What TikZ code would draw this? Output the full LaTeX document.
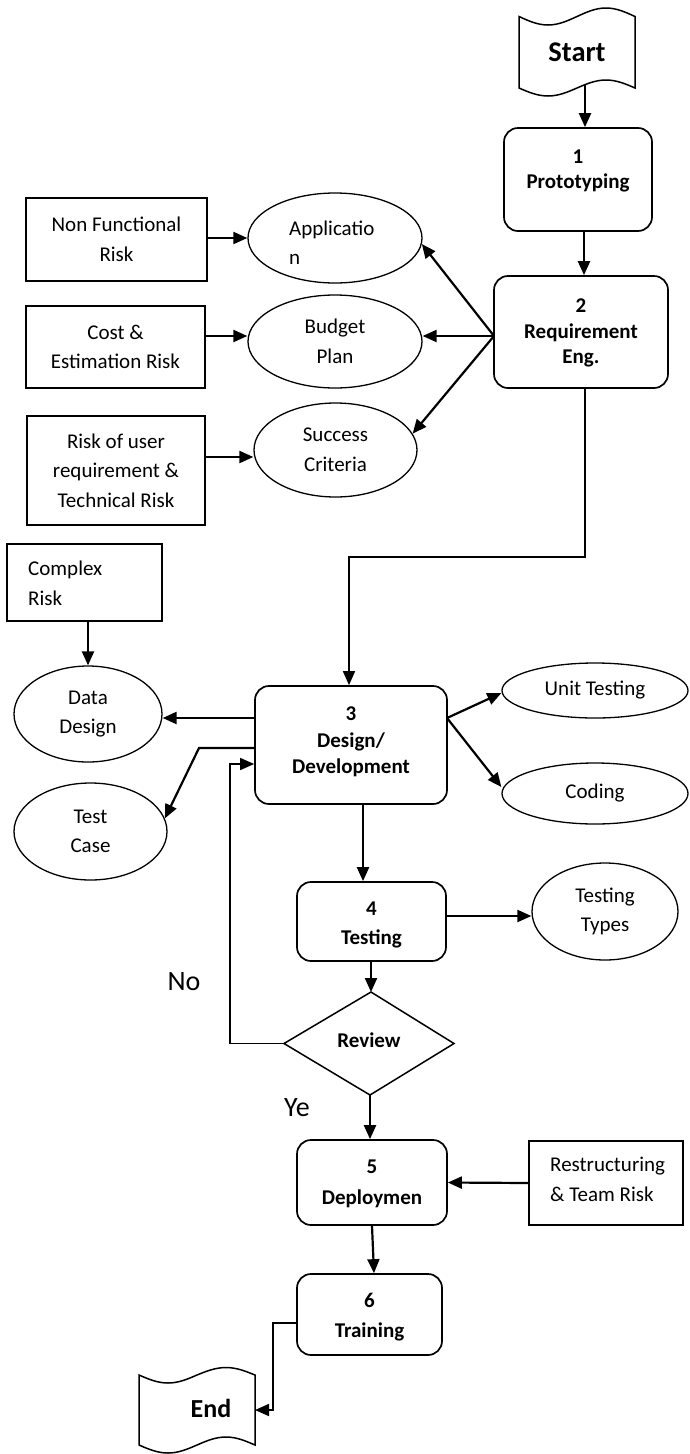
\documentclass[tikz,border=0pt]{standalone}
\usepackage{fontspec}
\setmainfont{Carlito}
\usetikzlibrary{shapes.geometric,arrows.meta}
\newcommand\rtxt{\fontsize{21}{29.5}\selectfont}
\tikzset{
  shapeline/.style={line width=1.5pt},
  sbox/.style={draw, line width=1.5pt, rectangle, inner sep=0pt, align=center, font=\rtxt},
  rbox/.style={draw, line width=1.7pt, rounded corners=14pt, inner sep=0pt},
  ell/.style={draw, ellipse, line width=1.3pt, inner sep=0pt, align=center, font=\rtxt},
  arr/.style={line width=2.2pt, -{Triangle[length=14pt,width=12pt]}},
  thinarr/.style={line width=1.6pt, -{Triangle[length=14pt,width=12pt]}},
  btxt/.style={align=center, inner sep=0pt, font=\bfseries\fontsize{21}{#1}\selectfont},
  ltxt/.style={align=left, inner sep=0pt, anchor=west, font=\rtxt},
  bigtxt/.style={inner sep=0pt, font=\fontsize{28}{32}\selectfont},
}
\begin{document}
\begin{tikzpicture}[x=1pt,y=-1pt]
\useasboundingbox (0,0) rectangle (689,1454);

% Start
\draw[shapeline] (519,16.5) sin (548,25) cos (577,16.5) sin (606,8) cos (635,16.5)
  -- (635,88) sin (606,80) cos (577,88) sin (548,96) cos (519,88) -- cycle;
\node[inner sep=0pt, font=\bfseries\fontsize{28.5}{32}\selectfont] (start) at (577,52) {Start};
\coordinate (startb) at (585,84);

% rounded process boxes
\node[rbox, minimum width=148pt, minimum height=103pt] (b1) at (578,179.5) {};
\node[btxt=25] (t1) at (578,171) {1\\Prototyping};
\node[rbox, minimum width=174pt, minimum height=112pt] (b2) at (581,332) {};
\node[btxt=25.5] (t2) at (581,333) {2\\Requirement\\Eng.};
\node[rbox, minimum width=192pt, minimum height=118pt] (b3) at (351,745) {};
\node[btxt=26.5] (t3) at (351,742) {3\\Design/\\Development};
\node[rbox, minimum width=149pt, minimum height=79pt] (b4) at (371.5,921.5) {};
\node[btxt=29] (t4) at (371.5,925) {4\\Testing};
\node[rbox, minimum width=150pt, minimum height=85pt] (b5) at (372,1182.5) {};
\node[btxt=31] (t5) at (372,1184) {5\\Deploymen};
\node[rbox, minimum width=145pt, minimum height=81pt] (b6) at (369.5,1314.5) {};
\node[btxt=30] (t6) at (369.5,1317.5) {6\\Training};

% risk boxes
\node[sbox, minimum width=181pt, minimum height=83pt] (nf) at (116.5,239.5) {Non Functional\\Risk};
\node[sbox, minimum width=179pt, minimum height=82pt] (cost) at (115.5,347) {Cost \&\\Estimation Risk};
\node[sbox, minimum width=178pt, minimum height=109pt] (risk) at (116,470.5) {Risk of user\\requirement \&\\Technical Risk};
\node[sbox, minimum width=155pt, minimum height=77pt] (cr) at (84.5,582.5) {};
\node[ltxt] (crt) at (28,583.5) {Complex\\Risk};
\node[sbox, minimum width=154pt, minimum height=84pt] (rs) at (606,1183) {};
\node[ltxt] (rst) at (550,1179.5) {Restructuring\\\& Team Risk};

% ellipses
\node[ell, minimum width=174pt, minimum height=90pt] (app) at (335,238) {};
\node[ltxt] (appt) at (289,242.5) {Applicatio\\n};
\node[ell, minimum width=174pt, minimum height=93pt] (bud) at (335,341.5) {Budget\\Plan};
\node[ell, minimum width=163pt, minimum height=94pt] (suc) at (335.5,450) {Success\\Criteria};
\node[ell, minimum width=148pt, minimum height=96pt] (dd) at (88,714) {Data\\Design};
\node[ell, minimum width=153pt, minimum height=97pt] (tc) at (90.5,831.5) {Test\\Case};
\node[ell, minimum width=186pt, minimum height=55pt] (ut) at (595,690.5) {Unit Testing};
\node[ell, minimum width=186pt, minimum height=61pt] (cod) at (595,793.5) {Coding};
\node[ell, minimum width=146pt, minimum height=97pt] (tt) at (605,911.5) {Testing\\Types};

% Review decision
\coordinate (rvT) at (371,992);
\coordinate (rvL) at (284,1043.5);
\coordinate (rvR) at (454,1043.5);
\coordinate (rvB) at (370,1095);
\draw[line width=1.5pt] (rvT) -- (rvR) -- (rvB) -- (rvL) -- cycle;
\node[inner sep=0pt, font=\bfseries\fontsize{21}{25}\selectfont] (review) at (369,1040) {Review};

% End
\draw[shapeline] (139,1375) sin (168,1383) cos (197,1375) sin (226,1367.5) cos (255,1375)
  -- (255,1445) sin (226,1437) cos (197,1445) sin (168,1453) cos (139,1445) -- cycle;
\node[inner sep=0pt, font=\bfseries\fontsize{26}{30}\selectfont] (endn) at (211,1408) {End};
\coordinate (endr) at (255,1410);

% labels
\node[bigtxt] (no) at (184,982) {No};
\node[bigtxt] (ye) at (297,1108) {Ye};

% connectors
\coordinate (b2l) at (494,336);
\coordinate (j1) at (349,557);
\coordinate (k1) at (199,748);
\coordinate (fb) at (230,1043.5);
\coordinate (m1) at (273,1410);
\coordinate (b3r) at (447,718);

\draw[arr] (startb) -- (startb |- b1.north);
\draw[arr] ([xshift=6pt]b1.south) -- ([xshift=3pt]b2.north);
\draw[arr] (b2l) -- (app.-4);
\draw[arr] (b2l) -- (bud.east |- b2l);
\draw[arr] (b2l) -- (suc.12);
\draw[arr] (nf.east |- 0,238) -- (app.west |- 0,238);
\draw[arr] (cost.east |- 0,336) -- (bud.west |- 0,336);
\draw[arr] (risk.east |- 0,457) -- (suc.west |- 0,457);
\draw[thinarr] ([xshift=4pt]b2.south) |- (j1) -- (j1 |- b3.north);
\draw[arr] (dd.north |- cr.south) -- (dd.north);
\draw[arr] (b3.west |- 0,718) -- (dd.east |- 0,718);
\draw[arr] (b3.west |- k1) -- (k1) -- (tc.10);
\draw[arr] (b3r) -- (ut.west |- 0,693);
\draw[arr] (b3r) -- (cod.west |- 0,787);
\draw[thinarr] (rvL) -- (fb) |- (b3.west |- 0,764);
\draw[arr] ([xshift=12pt]b3.south) -- ([xshift=-8.5pt]b4.north);
\draw[arr] (b4.east |- 0,916) -- (tt.west |- 0,916);
\draw[arr] (rvT |- b4.south) -- (rvT);
\draw[arr] (rvB) -- (rvB |- b5.north);
\draw[arr] (rs.west) -- (b5.east);
\draw[arr] (b5.south) -- ([xshift=4.5pt]b6.north);
\draw[thinarr] (b6.west |- 0,1323) -| (m1) -- (endr);
\end{tikzpicture}
\end{document}
